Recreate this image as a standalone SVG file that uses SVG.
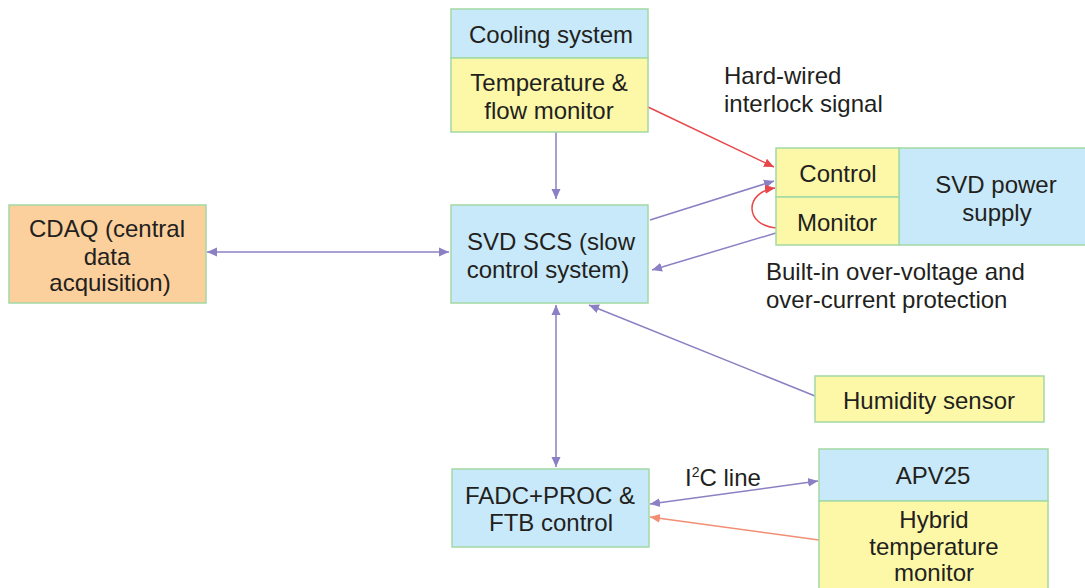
<svg xmlns="http://www.w3.org/2000/svg" width="1085" height="588" viewBox="0 0 1085 588">
<defs>
<style>
.box{stroke:#a3d9a5;stroke-width:1.5}
.blue{fill:#c8e9f9}
.yel{fill:#fdf7a8}
.org{fill:#fcd09c}
text{font-family:"Liberation Sans",Arial,sans-serif;font-size:24px;fill:#231f20;text-anchor:middle}
.l{text-anchor:start}
.p{stroke:#8b80c4;stroke-width:1.5;fill:none}
.r{stroke:#e8474a;stroke-width:1.5;fill:none}
.s{stroke:#f28e74;stroke-width:1.5;fill:none}
</style>
<marker id="ap" viewBox="0 0 10 10" refX="10" refY="5" markerWidth="10" markerHeight="10" markerUnits="userSpaceOnUse" orient="auto-start-reverse"><path d="M0,0.5 L10,5 L0,9.5 z" fill="#8b80c4"/></marker>
<marker id="ar" viewBox="0 0 10 10" refX="10" refY="5" markerWidth="10" markerHeight="10" markerUnits="userSpaceOnUse" orient="auto-start-reverse"><path d="M0,0.5 L10,5 L0,9.5 z" fill="#e8474a"/></marker>
<marker id="as" viewBox="0 0 10 10" refX="10" refY="5" markerWidth="10" markerHeight="10" markerUnits="userSpaceOnUse" orient="auto-start-reverse"><path d="M0,0.5 L10,5 L0,9.5 z" fill="#f28e74"/></marker>
</defs>
<rect width="1085" height="588" fill="#fff"/>
<g id="connectors">
<line class="p" x1="556" y1="132" x2="556" y2="199" marker-end="url(#ap)"/>
<line class="p" x1="207" y1="252" x2="449" y2="252" marker-start="url(#ap)" marker-end="url(#ap)"/>
<line class="r" x1="648" y1="107" x2="774" y2="167" marker-end="url(#ar)"/>
<line class="p" x1="650" y1="220" x2="774" y2="181" marker-end="url(#ap)"/>
<line class="p" x1="776" y1="233" x2="652" y2="270" marker-end="url(#ap)"/>
<path class="r" d="M777,228 C744,226 744,192 775,188" marker-end="url(#ar)"/>
<line class="p" x1="556" y1="305" x2="556" y2="467" marker-start="url(#ap)" marker-end="url(#ap)"/>
<line class="p" x1="815" y1="396" x2="589" y2="305" marker-end="url(#ap)"/>
<line class="p" x1="650" y1="504" x2="818" y2="481" marker-start="url(#ap)" marker-end="url(#ap)"/>
<line class="s" x1="819" y1="540" x2="650" y2="517" marker-end="url(#as)"/>
</g>
<g id="cooling">
<rect class="box blue" x="451" y="9" width="197" height="49"/>
<rect class="box yel" x="451" y="58" width="197" height="74"/>
<text x="551" y="43">Cooling system</text>
<text x="549" y="91">Temperature &amp;</text>
<text x="549" y="119">flow monitor</text>
</g>
<g id="scs">
<rect class="box blue" x="451" y="205" width="197" height="98"/>
<text x="551" y="250">SVD SCS (slow</text>
<text x="548" y="278">control system)</text>
</g>
<g id="cdaq">
<rect class="box org" x="9" y="205" width="197" height="98"/>
<text x="107" y="237">CDAQ (central</text>
<text x="107" y="265">data</text>
<text x="110" y="291">acquisition)</text>
</g>
<g id="powersupply">
<rect class="box blue" x="899" y="148" width="190" height="97"/>
<rect class="box yel" x="776" y="148" width="123" height="49"/>
<rect class="box yel" x="776" y="197" width="123" height="48"/>
<text x="838" y="182">Control</text>
<text x="837" y="231">Monitor</text>
<text x="996" y="193">SVD power</text>
<text x="997" y="221">supply</text>
</g>
<g id="humidity">
<rect class="box yel" x="815" y="376" width="229" height="46"/>
<text x="929" y="409">Humidity sensor</text>
</g>
<g id="fadc">
<rect class="box blue" x="452" y="469" width="197" height="78"/>
<text x="550" y="504">FADC+PROC &amp;</text>
<text x="551" y="531">FTB control</text>
</g>
<g id="apv25">
<rect class="box blue" x="819" y="449" width="229" height="52"/>
<rect class="box yel" x="819" y="501" width="229" height="92"/>
<text x="933" y="484">APV25</text>
<text x="934" y="528">Hybrid</text>
<text x="934" y="555">temperature</text>
<text x="934" y="581">monitor</text>
</g>
<g id="labels">
<text class="l" x="724" y="84">Hard-wired</text>
<text class="l" x="724" y="112">interlock signal</text>
<text class="l" x="766" y="280">Built-in over-voltage and</text>
<text class="l" x="766" y="308">over-current protection</text>
<text class="l" x="685" y="486">I<tspan font-size="14" dy="-9">2</tspan><tspan dy="9">C line</tspan></text>
</g>
</svg>
